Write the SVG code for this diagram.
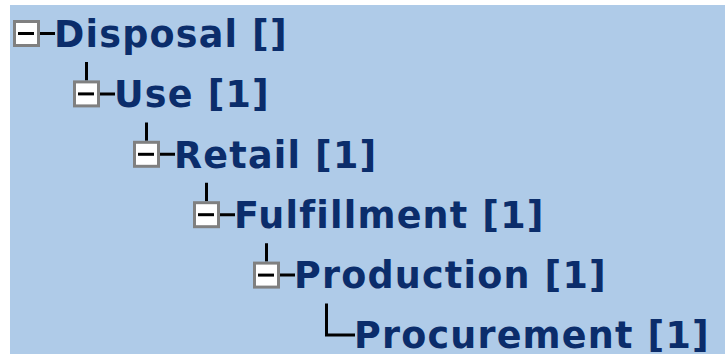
<svg xmlns="http://www.w3.org/2000/svg" width="725" height="354" viewBox="0 0 725 354">
<style>
.bx{fill:#ffffff;stroke:#808080;stroke-width:3}
.mn{stroke:#000;stroke-width:3}
.ln{stroke:#000;stroke-width:3;fill:none}
.t{font-family:"DejaVu Sans",Verdana,sans-serif;font-weight:bold;font-size:36.5px;letter-spacing:1.2px;fill:#0b2d6b}
</style>
<rect x="0" y="0" width="725" height="354" fill="#ffffff"/>
<rect x="10" y="5" width="715" height="349" fill="#afcbe8"/>
<g id="connectors">
<path class="ln" d="M40 33.5H55"/>
<path class="ln" d="M86.5 62V80.4M100 93.9H115"/>
<path class="ln" d="M146.5 122.4V140.8M160 154.3H175"/>
<path class="ln" d="M206.5 182.8V201.2M220 214.7H235"/>
<path class="ln" d="M266.5 243.2V261.6M280 275.1H295"/>
<path class="ln" d="M326.5 303.6V335H355"/>
</g>
<g id="disposal">
<rect class="bx" x="14.5" y="21.5" width="24" height="24"/>
<path class="mn" d="M18 33.5H34"/>
<text class="t" x="54" y="46.7">Disposal []</text>
</g>
<g id="use">
<rect class="bx" x="74.5" y="81.9" width="24" height="24"/>
<path class="mn" d="M78 93.9H94"/>
<text class="t" x="114" y="107.1">Use [1]</text>
</g>
<g id="retail">
<rect class="bx" x="134.5" y="142.3" width="24" height="24"/>
<path class="mn" d="M138 154.3H154"/>
<text class="t" x="174" y="167.5">Retail [1]</text>
</g>
<g id="fulfillment">
<rect class="bx" x="194.5" y="202.7" width="24" height="24"/>
<path class="mn" d="M198 214.7H214"/>
<text class="t" x="234" y="227.9">Fulfillment [1]</text>
</g>
<g id="production">
<rect class="bx" x="254.5" y="263.1" width="24" height="24"/>
<path class="mn" d="M258 275.1H274"/>
<text class="t" x="294" y="288.3">Production [1]</text>
</g>
<g id="procurement">
<text class="t" x="354" y="347.5">Procurement [1]</text>
</g>
</svg>
